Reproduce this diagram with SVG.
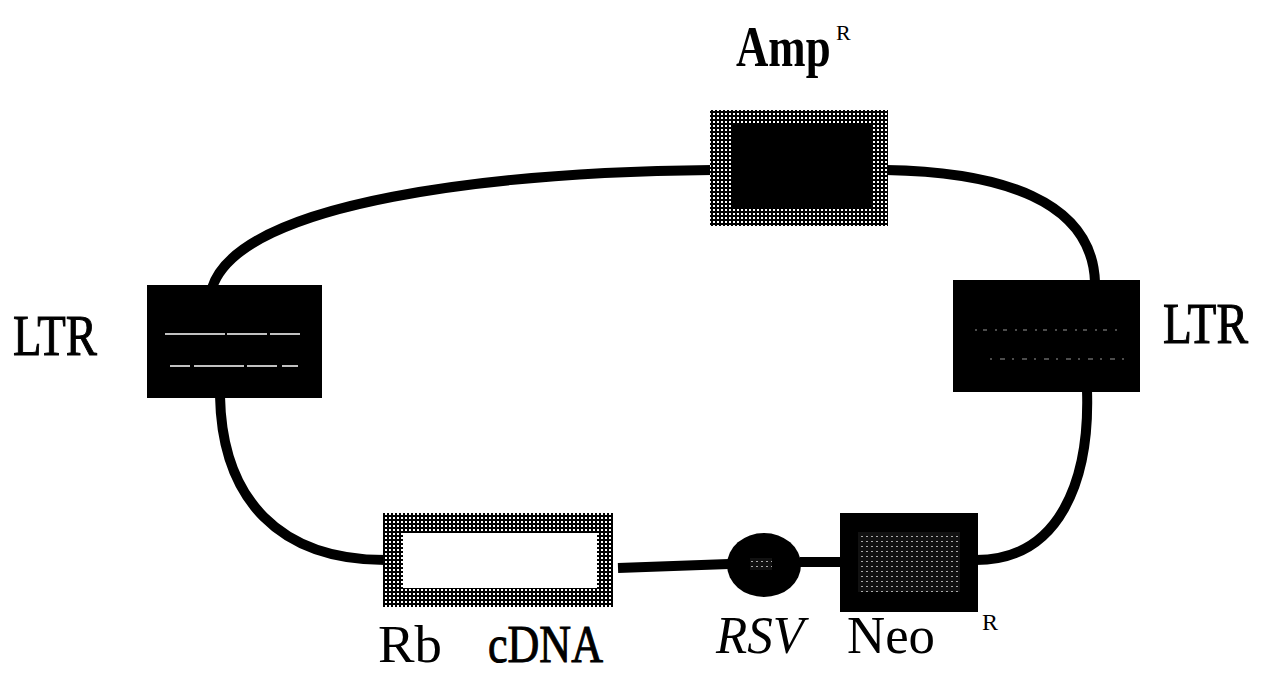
<svg xmlns="http://www.w3.org/2000/svg" width="1263" height="675" viewBox="0 0 1263 675">
<style>
.conn{fill:none;stroke:#000;stroke-width:10;stroke-linecap:butt}
.lbl{font-family:"Liberation Serif","DejaVu Serif",serif;fill:#000}
.heavy{stroke:#000;stroke-width:1}
.blk{fill:#000}
</style>
<defs>
<pattern id="grid" width="4" height="4" patternUnits="userSpaceOnUse">
<rect width="4" height="4" fill="#000"/>
<rect x="1" y="1" width="2" height="2" fill="#fff"/>
</pattern>
<pattern id="dots" width="5" height="5" patternUnits="userSpaceOnUse">
<rect width="5" height="5" fill="#111"/>
<rect x="1" y="1" width="2" height="1" fill="#aaa"/>
</pattern>
</defs>
<rect width="1263" height="675" fill="#fff"/>
<g id="connectors">
<path class="conn" d="M 712 170 C 500 172, 240 200, 212 288"/>
<path class="conn" d="M 886 170 C 1000 172, 1092 200, 1095 282"/>
<path class="conn" d="M 220 396 C 222 500, 280 560, 385 560"/>
<path class="conn" d="M 1087 390 C 1090 480, 1060 560, 976 560"/>
<path class="conn" d="M 618 568 L 729 564"/>
<path class="conn" d="M 800 562 L 842 562"/>
</g>
<g id="amp">
<rect x="710" y="110" width="178" height="116" fill="url(#grid)"/>
<rect x="733" y="125" width="139" height="83" class="blk"/>
<text class="lbl" transform="translate(736,66) scale(0.8,1)" x="0" y="0" font-size="56" font-weight="bold">Amp</text>
<text class="lbl" x="836" y="40" font-size="22">R</text>
</g>
<g id="ltr-left">
<rect x="147" y="285" width="175" height="113" class="blk"/>
<line x1="165" y1="334" x2="302" y2="334" stroke="#fff" stroke-width="1.5" stroke-dasharray="60 2 40 3 30 2"/>
<line x1="170" y1="366" x2="298" y2="366" stroke="#fff" stroke-width="1.5" stroke-dasharray="20 4 50 3 30 5"/>
<text class="lbl heavy" x="13" y="355" font-size="58" textLength="84" lengthAdjust="spacingAndGlyphs">LTR</text>
</g>
<g id="ltr-right">
<rect x="953" y="280" width="187" height="112" class="blk"/>
<line x1="975" y1="330" x2="1120" y2="330" stroke="#666" stroke-width="1.5" stroke-dasharray="2 6 4 8"/>
<line x1="990" y1="359" x2="1130" y2="359" stroke="#666" stroke-width="1.5" stroke-dasharray="2 8 5 7"/>
<text class="lbl heavy" x="1163" y="343" font-size="56" textLength="85" lengthAdjust="spacingAndGlyphs">LTR</text>
</g>
<g id="rb-cdna">
<rect x="383" y="513" width="230" height="94" fill="url(#grid)"/>
<rect x="403" y="533" width="194" height="55" fill="#fff"/>
<text class="lbl" x="378" y="662" font-size="52" textLength="64" lengthAdjust="spacingAndGlyphs">Rb</text>
<text class="lbl heavy" x="488" y="662" font-size="52" textLength="115" lengthAdjust="spacingAndGlyphs">cDNA</text>
</g>
<g id="rsv">
<ellipse cx="764" cy="565" rx="37" ry="32" class="blk"/>
<rect x="750" y="558" width="22" height="12" fill="url(#dots)"/>
<text class="lbl" x="716" y="653" font-size="52" font-style="italic" textLength="88" lengthAdjust="spacingAndGlyphs">RSV</text>
</g>
<g id="neo">
<rect x="840" y="513" width="138" height="99" class="blk"/>
<rect x="858" y="532" width="102" height="60" fill="url(#dots)"/>
<text class="lbl" x="847" y="653" font-size="52" textLength="88" lengthAdjust="spacingAndGlyphs">Neo</text>
<text class="lbl" x="982" y="630" font-size="24">R</text>
</g>
</svg>
